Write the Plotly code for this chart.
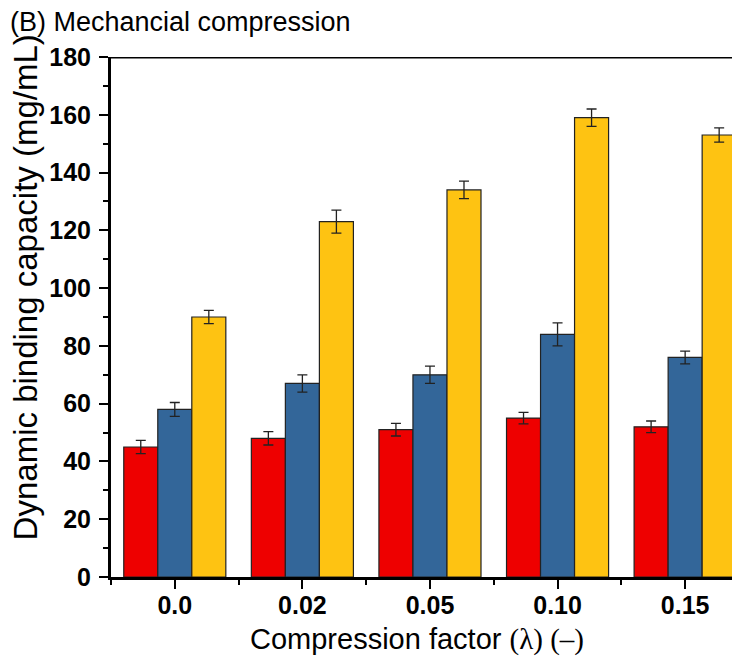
import plotly.graph_objects as go

categories = ["0.0", "0.02", "0.05", "0.10", "0.15"]
red_vals = [45, 48, 51, 55, 52]
red_err = [2.3, 2.3, 2.2, 2.0, 2.0]
blue_vals = [58, 67, 70, 84, 76]
blue_err = [2.4, 3.0, 3.0, 4.0, 2.2]
yellow_vals = [90, 123, 134, 159, 153]
yellow_err = [2.3, 4.0, 3.0, 3.0, 2.5]
y_ticks = [0, 20, 40, 60, 80, 100, 120, 140, 160, 180]

colors = ["#EE0000", "#336699", "#FEC312"]
xpos = list(range(len(categories)))

fig = go.Figure()
for vals, err, c in [(red_vals, red_err, colors[0]), (blue_vals, blue_err, colors[1]), (yellow_vals, yellow_err, colors[2])]:
    fig.add_trace(go.Bar(
        x=xpos, y=vals, marker=dict(color=c, line=dict(color="#222222", width=1.2)),
        error_y=dict(type="data", array=err, visible=True, color="#222222", thickness=1.3, width=5),
        showlegend=False,
    ))

# page body adds an 8px margin, so the figure is sized to fill the remaining window
fig.update_layout(
    width=732, height=661,
    paper_bgcolor="white", plot_bgcolor="white",
    margin=dict(l=103, r=0, t=49, b=92, autoexpand=False),
    barmode="group", bargap=0.2, bargroupgap=0,
    font=dict(family="Liberation Sans, Arial", color="black"),
    xaxis=dict(
        range=[-0.5, 4.43], tickmode="array", tickvals=xpos, ticktext=categories,
        showline=True, linecolor="black", linewidth=3, automargin=False,
        ticks="outside", ticklen=9, tickwidth=2, tickcolor="black",
        tickfont=dict(size=25, weight="bold"), ticklabelstandoff=-5,
        minor=dict(tickmode="linear", tick0=-0.5, dtick=1, ticks="outside", ticklen=5, tickwidth=2, tickcolor="black"),
        showgrid=False, zeroline=False,
    ),
    yaxis=dict(
        range=[0, 180], tickmode="array", tickvals=y_ticks,
        showline=True, linecolor="black", linewidth=3, automargin=False,
        ticks="outside", ticklen=9, tickwidth=2, tickcolor="black",
        tickfont=dict(size=25, weight="bold"), ticklabelstandoff=3,
        minor=dict(tickmode="linear", tick0=10, dtick=20, ticks="outside", ticklen=5, tickwidth=2, tickcolor="black"),
        showgrid=False, zeroline=False,
    ),
    shapes=[dict(type="line", xref="paper", yref="y", x0=0, x1=1, y0=180, y1=180,
                 line=dict(color="black", width=3))],
    annotations=[
        dict(text="(B) Mechancial compression", xref="paper", yref="paper",
             x=-0.1638, y=1.067, xanchor="left", yanchor="middle",
             showarrow=False, font=dict(size=27)),
        dict(text="Dynamic binding capacity (mg/mL)", xref="paper", yref="paper",
             x=-0.1367, y=0.557, xanchor="center", yanchor="middle", textangle=-90,
             showarrow=False, font=dict(size=33)),
        dict(text="Compression factor <span style='font-family:Liberation Serif, Times New Roman'>(λ) (–)</span>",
             xref="paper", yref="paper", x=0.4865, y=-0.121, xanchor="center", yanchor="middle",
             showarrow=False, font=dict(size=29)),
    ],
)

fig.write_html("out.html")
